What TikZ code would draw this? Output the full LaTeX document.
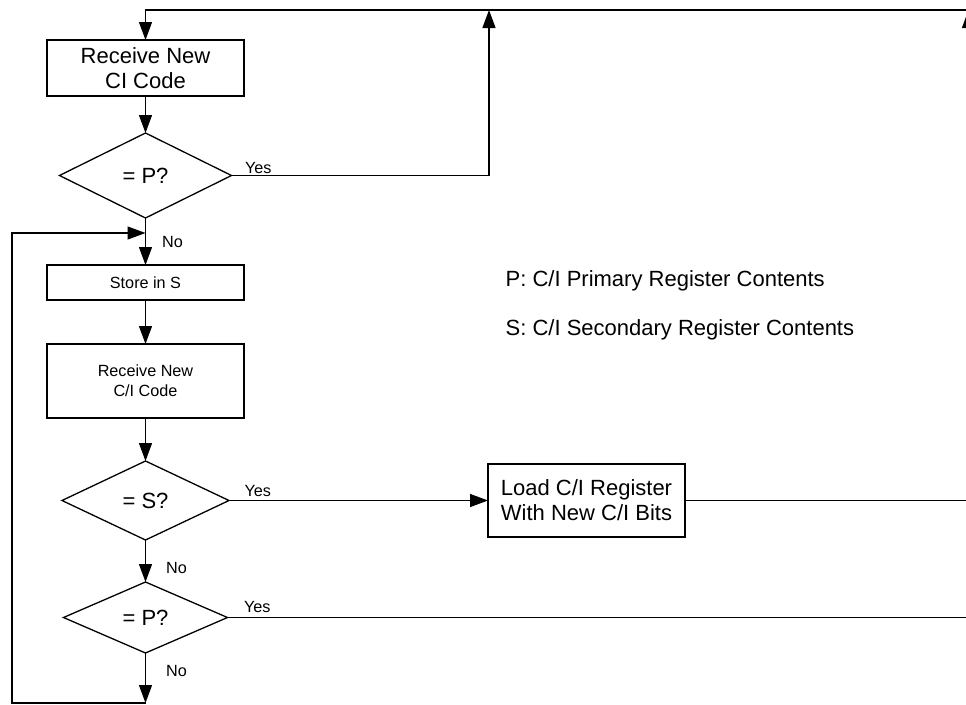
\documentclass[tikz,border=0pt]{standalone}
\usepackage{fontspec}
\setmainfont{Liberation Sans}
\usetikzlibrary{arrows.meta, positioning, shapes.geometric}

\begin{document}
\begin{tikzpicture}[
  x=1pt, y=-1pt,
  line width=1.3pt,
  big/.style={font=\fontsize{22}{25}\selectfont},
  sml/.style={font=\fontsize{16.2}{20}\selectfont},
  box/.style={draw, rectangle, align=center, minimum width=197pt,
              inner sep=0pt, outer sep=0pt},
  test/.style={draw, diamond, inner sep=0pt, outer sep=0pt, big},
  lbl/.style={sml, inner sep=0pt, anchor=west},
  key/.style={big, inner sep=0pt, anchor=west},
  ar/.style={-{Triangle[length=18pt, width=13pt]}},
]
\useasboundingbox (0,0) rectangle (966,704);

%% main column
\node[box, big, minimum height=56pt] (recv1) at (145.5,68) {Receive New\\CI Code};
\node[test, minimum width=172pt, minimum height=85pt] (test1) at (145.5,175.5) {= P?};
\node[box, sml, minimum height=35pt] (store) at (145.5,282.5) {Store in S};
\node[box, sml, minimum height=74pt] (recv2) at (145.5,381) {Receive New\\C/I Code};
\node[test, minimum width=167pt, minimum height=79pt] (test2) at (145.5,500.5) {= S?};
\node[test, minimum width=164pt, minimum height=71pt] (test3) at (145.5,617.5) {= P?};

%% load box
\node[box, big, minimum height=73pt] (load) at (586.5,500.5) {Load C/I Register\\With New C/I Bits};

%% key
\node[key] (keyP) at (505,281) {P: C/I Primary Register Contents};
\node[key] (keyS) at (505,330) {S: C/I Secondary Register Contents};

%% branch labels
\node[lbl, xshift=13pt, yshift=7pt]   (yes1) at (test1.east)  {Yes};
\node[lbl, xshift=16pt, yshift=-24pt] (no1)  at (test1.south) {No};
\node[lbl, xshift=15pt, yshift=10pt]  (yes2) at (test2.east)  {Yes};
\node[lbl, xshift=20pt, yshift=-28pt] (no2)  at (test2.south) {No};
\node[lbl, xshift=16pt, yshift=11pt]  (yes3) at (test3.east)  {Yes};
\node[lbl, xshift=20pt, yshift=-18pt] (no3)  at (test3.south) {No};

%% turning points
\coordinate (topR)  at (968.5,10);
\coordinate (topJ)  at (489,10);
\coordinate (loopL) at (12,233);
\coordinate (loopB) at (12,703);

\draw[ar] (topR) -| (recv1.north);
\draw[ar] (recv1) -- (test1);
\draw[ar] (test1.east) -| (topJ);
\draw[ar] (test1) -- (store);
\draw[ar] (store) -- (recv2);
\draw[ar] (recv2) -- (test2);
\draw[ar] (test2) -- (load);
\draw[ar] (test2) -- (test3);
\draw[ar] (test3.south) -- (test3.south |- loopB);
\draw[ar] (test3.south |- loopB) -- (loopB) -- (loopL) -- (test1.south |- loopL);
\draw (load.east) -- (load.east -| topR);
\draw[ar] (test3.east) -- (test3.east -| topR) -- (topR);
\end{tikzpicture}
\end{document}
